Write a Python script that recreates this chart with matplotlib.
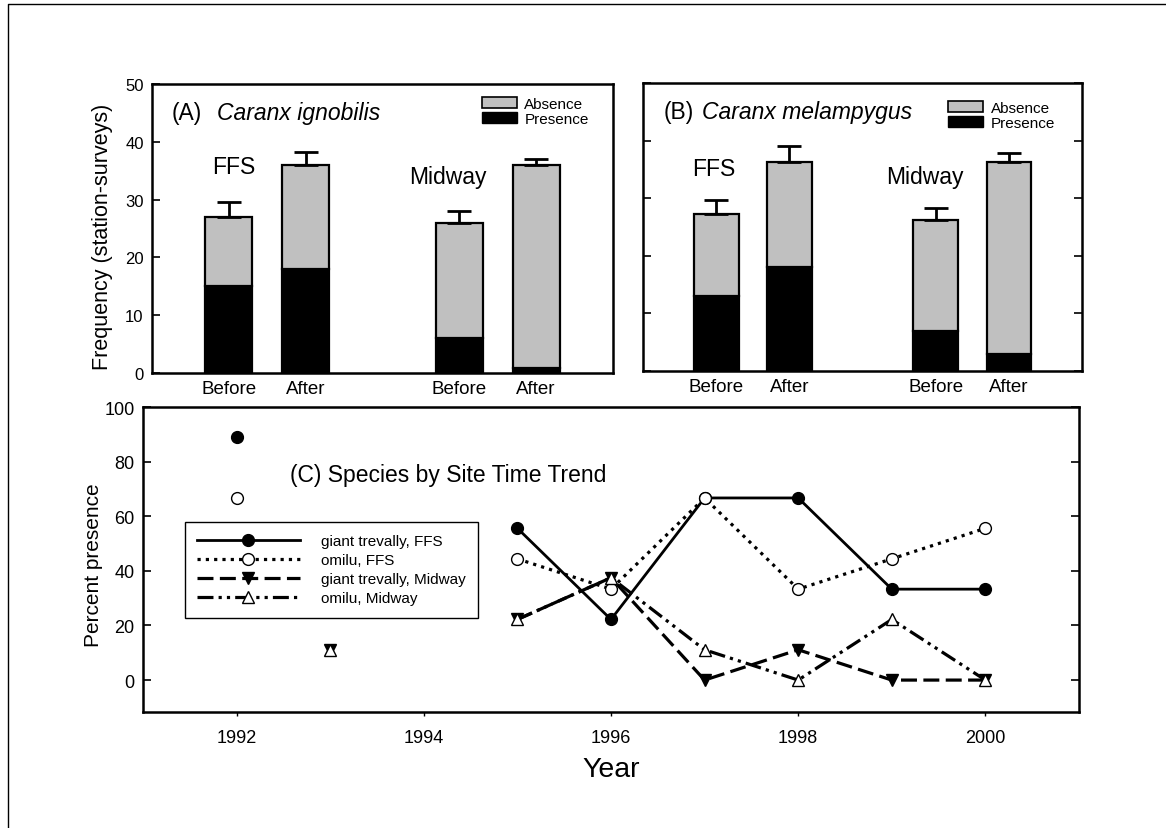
import numpy as np
import matplotlib
matplotlib.use('Agg')
import matplotlib.pyplot as plt
from matplotlib.patches import Patch
from matplotlib.lines import Line2D

plt.rcParams['font.family'] = ['Liberation Sans', 'DejaVu Sans']

# ---- data: panels A and B (station-surveys) ----
periods = ["Before", "After", "Before", "After"]
sites = ["FFS", "Midway"]
ign_presence = [15, 18, 6, 0.8]
ign_total = [27, 36, 26, 36]
ign_err = [2.5, 2.3, 2.1, 1.0]
mel_presence = [13, 18, 7, 3]
mel_total = [27.2, 36.2, 26.2, 36.2]
mel_err = [2.5, 2.8, 2.1, 1.6]

# ---- data: panel C (percent presence) ----
years = [1992, 1993, 1994, 1995, 1996, 1997, 1998, 1999, 2000]
gt_ffs = [88.9, np.nan, np.nan, 55.6, 22.2, 66.7, 66.7, 33.3, 33.3]
om_ffs = [66.7, np.nan, np.nan, 44.4, 33.3, 66.7, 33.3, 44.4, 55.6]
gt_mid = [np.nan, 11.1, np.nan, 22.2, 37.5, 0, 11.1, 0, 0]
om_mid = [np.nan, 11.1, np.nan, 22.2, 37.5, 11.1, 0, 22.2, 0]

gray = '#c0c0c0'
bar_pos = [1, 2, 4, 5]

fig = plt.figure(figsize=(11.66, 8.29), dpi=100)
axA = fig.add_axes([0.1304, 0.5489, 0.3953, 0.3486])
axB = fig.add_axes([0.5515, 0.5513, 0.3765, 0.3474])
axC = fig.add_axes([0.1226, 0.1399, 0.8028, 0.3679])

# outer frame (only top and left visible)
fig.add_artist(Line2D([0.0069, 0.0069, 1.0], [0.0, 0.994, 0.994],
                      transform=fig.transFigure, color='k', lw=1))


def bar_panel(ax, presence, total, err, tag, species, leg_anchor, ffs_xy, mid_xy, labels_left):
    absence = np.array(total) - np.array(presence)
    ax.bar(bar_pos, presence, width=0.61, color='k', edgecolor='k', lw=1.6, zorder=2)
    ax.bar(bar_pos, absence, bottom=presence, width=0.61, color=gray,
           edgecolor='k', lw=1.6, zorder=2)
    ax.errorbar(bar_pos, total, yerr=[np.zeros(4), err], fmt='none', ecolor='k',
                elinewidth=2, capsize=8.5, capthick=2, zorder=3)
    ax.set_xlim(0, 6)
    ax.set_ylim(0, 50)
    ax.set_xticks(bar_pos)
    ax.set_xticklabels(periods, fontsize=13.5)
    ax.tick_params(axis='x', length=0, pad=5)
    ax.set_yticks(range(0, 51, 10))
    if labels_left:
        ax.tick_params(axis='y', direction='in', length=6, width=1.2, labelsize=12, pad=6)
    else:
        ax.tick_params(axis='y', direction='in', length=6, width=1.2, left=True,
                       right=True, labelleft=False)
    for sp in ax.spines.values():
        sp.set_linewidth(1.8)
    ax.text(tag[1], 0.9, tag[0], transform=ax.transAxes, fontsize=16.5, va='center')
    ax.text(tag[2], 0.9, species, transform=ax.transAxes, fontsize=16.5,
            style='italic', va='center')
    ax.text(ffs_xy[0], ffs_xy[1], sites[0], fontsize=16.5, ha='center', va='center')
    ax.text(mid_xy[0], mid_xy[1], sites[1], fontsize=16.5, ha='center', va='center')
    handles = [Patch(facecolor=gray, edgecolor='k', lw=1.2), Patch(facecolor='k', edgecolor='k')]
    ax.legend(handles, ["Absence", "Presence"], loc='upper left', bbox_to_anchor=leg_anchor,
              frameon=False, fontsize=11, handlelength=2.3, handleheight=0.7,
              labelspacing=0.05, handletextpad=0.5, borderpad=0, borderaxespad=0)


bar_panel(axA, ign_presence, ign_total, ign_err, ("(A)", 0.043, 0.141), "Caranx ignobilis",
          (0.715, 0.955), (1.06, 35.8), (3.85, 34.0), True)
bar_panel(axB, mel_presence, mel_total, mel_err, ("(B)", 0.046, 0.135), "Caranx melampygus",
          (0.695, 0.938), (0.97, 35.2), (3.85, 33.7), False)
axA.set_ylabel("Frequency (station-surveys)", fontsize=15.5)
axA.yaxis.set_label_coords(-0.085, 0.475)

# ---- panel C ----
axC.plot(years, gt_ffs, color='k', lw=2, ls='-', marker='o', ms=8.5,
         mfc='k', mec='k', label="giant trevally, FFS", zorder=3)
axC.plot(years, om_ffs, color='k', lw=2.3, ls=(0, (1, 1.6)), marker='o', ms=8.5,
         mfc='white', mec='k', mew=1, label="omilu, FFS", zorder=4)
axC.plot(years, gt_mid, color='k', lw=2.3, ls=(0, (5, 2)), marker='v', ms=8.5,
         mfc='k', mec='k', label="giant trevally, Midway", zorder=3)
axC.plot(years, om_mid, color='k', lw=2.3, ls=(0, (5, 1.6, 1, 1.6, 1, 1.6)), marker='^', ms=8.5,
         mfc='white', mec='k', mew=1, label="omilu, Midway", zorder=4)

axC.set_xlim(1991, 2001)
axC.set_ylim(-11.7, 100)
axC.set_xticks(range(1992, 2001, 2))
axC.set_yticks(range(0, 101, 20))
axC.tick_params(axis='y', direction='in', length=6, width=1.2, left=True, right=True,
                labelsize=13, pad=6)
axC.tick_params(axis='x', direction='out', length=3, width=1, labelsize=13, pad=9)
for sp in axC.spines.values():
    sp.set_linewidth(1.8)
axC.text(1992.57, 75.4, "(C) Species by Site Time Trend", fontsize=16.5, va='center')
axC.set_ylabel("Percent presence", fontsize=15)
axC.yaxis.set_label_coords(-0.043, 0.485)
axC.set_xlabel("Year", fontsize=20.5)
axC.xaxis.set_label_coords(0.5, -0.145)
leg = axC.legend(loc='upper left', bbox_to_anchor=(0.045, 0.623), fontsize=11,
                 handlelength=6.7, handletextpad=1.4, labelspacing=0.33, numpoints=1,
                 fancybox=False, edgecolor='k', framealpha=1, borderaxespad=0,
                 borderpad=0.8)
leg.get_frame().set_linewidth(1)

fig.savefig("out.png", dpi=100)
